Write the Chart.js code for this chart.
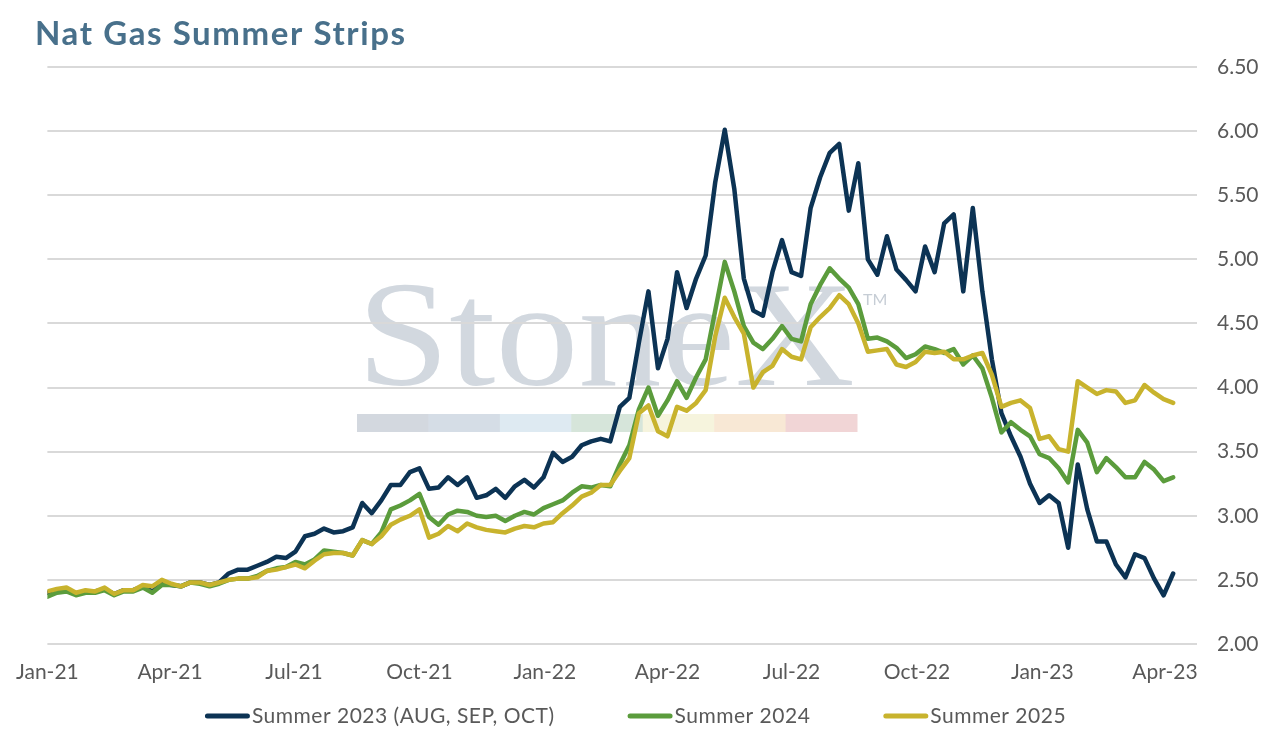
<!DOCTYPE html>
<html>
<head>
<meta charset="utf-8">
<title>Nat Gas Summer Strips</title>
<script src="https://cdn.jsdelivr.net/npm/chart.js@4.4.0/dist/chart.umd.min.js"></script>
<style>
    html, body { margin: 0; padding: 0; background: #fff; }
    #wrap { position: relative; width: 1271px; height: 734px; }
</style>
</head>
<body>
<div id="wrap"><canvas id="myChart" width="1271" height="734"></canvas></div>
<script>
// weekly settlement of each strip, first point = week of 2021-01-01
const startDate = '2021-01-01';
const stepDays = 7;

const summer2023 = [
    2.40, 2.42, 2.43, 2.39, 2.41, 2.41, 2.43, 2.39, 2.42, 2.42,
    2.45, 2.41, 2.47, 2.46, 2.45, 2.48, 2.48, 2.46, 2.48, 2.55,
    2.58, 2.58, 2.61, 2.64, 2.68, 2.67, 2.72, 2.84, 2.86, 2.90,
    2.87, 2.88, 2.91, 3.10, 3.02, 3.12, 3.24, 3.24, 3.34, 3.37,
    3.21, 3.22, 3.30, 3.24, 3.30, 3.14, 3.16, 3.21, 3.14, 3.23,
    3.28, 3.22, 3.30, 3.49, 3.42, 3.46, 3.55, 3.58, 3.60, 3.58,
    3.85, 3.92, 4.35, 4.75, 4.15, 4.38, 4.90, 4.62, 4.85, 5.03,
    5.60, 6.01, 5.55, 4.85, 4.60, 4.56, 4.90, 5.15, 4.90, 4.87,
    5.40, 5.64, 5.83, 5.90, 5.38, 5.75, 5.00, 4.88, 5.18, 4.92,
    4.84, 4.75, 5.10, 4.90, 5.28, 5.35, 4.75, 5.40, 4.75, 4.22,
    3.80, 3.62, 3.46, 3.25, 3.10, 3.16, 3.10, 2.75, 3.40, 3.05,
    2.80, 2.80, 2.62, 2.52, 2.70, 2.67, 2.51, 2.38, 2.55
];
const summer2024 = [
    2.37, 2.40, 2.41, 2.38, 2.40, 2.40, 2.42, 2.38, 2.41, 2.41,
    2.44, 2.40, 2.46, 2.46, 2.45, 2.48, 2.47, 2.45, 2.47, 2.50,
    2.51, 2.51, 2.53, 2.57, 2.59, 2.60, 2.64, 2.62, 2.66, 2.73,
    2.72, 2.71, 2.69, 2.81, 2.78, 2.87, 3.05, 3.08, 3.12, 3.17,
    2.99, 2.93, 3.01, 3.04, 3.03, 3.00, 2.99, 3.00, 2.96, 3.00,
    3.03, 3.01, 3.06, 3.09, 3.12, 3.18, 3.23, 3.22, 3.24, 3.23,
    3.40, 3.55, 3.83, 4.00, 3.78, 3.90, 4.05, 3.92, 4.08, 4.22,
    4.60, 4.98, 4.75, 4.48, 4.35, 4.30, 4.38, 4.48, 4.38, 4.36,
    4.65, 4.80, 4.93, 4.85, 4.78, 4.65, 4.38, 4.39, 4.36, 4.31,
    4.23, 4.26, 4.32, 4.30, 4.27, 4.30, 4.18, 4.25, 4.15, 3.92,
    3.65, 3.73, 3.67, 3.62, 3.48, 3.45, 3.37, 3.26, 3.67, 3.57,
    3.34, 3.45, 3.38, 3.30, 3.30, 3.42, 3.36, 3.27, 3.30
];
const summer2025 = [
    2.41, 2.43, 2.44, 2.40, 2.42, 2.41, 2.44, 2.39, 2.42, 2.42,
    2.46, 2.45, 2.50, 2.47, 2.45, 2.48, 2.48, 2.46, 2.48, 2.50,
    2.51, 2.51, 2.52, 2.57, 2.58, 2.60, 2.62, 2.59, 2.65, 2.70,
    2.71, 2.71, 2.69, 2.81, 2.78, 2.84, 2.93, 2.97, 3.00, 3.05,
    2.83, 2.86, 2.92, 2.88, 2.94, 2.91, 2.89, 2.88, 2.87, 2.90,
    2.92, 2.91, 2.94, 2.95, 3.02, 3.08, 3.15, 3.18, 3.24, 3.24,
    3.35, 3.45, 3.80, 3.86, 3.66, 3.62, 3.85, 3.82, 3.88, 3.98,
    4.40, 4.70, 4.55, 4.42, 4.00, 4.12, 4.17, 4.30, 4.24, 4.22,
    4.47, 4.55, 4.62, 4.72, 4.65, 4.50, 4.28, 4.29, 4.30, 4.18,
    4.16, 4.20, 4.28, 4.27, 4.28, 4.22, 4.22, 4.25, 4.27, 4.10,
    3.85, 3.88, 3.90, 3.84, 3.60, 3.62, 3.52, 3.50, 4.05, 4.00,
    3.95, 3.98, 3.97, 3.88, 3.90, 4.02, 3.96, 3.91, 3.88
];

const seriesNames = ['Summer 2023 (AUG, SEP, OCT)', 'Summer 2024', 'Summer 2025'];
const tickDates = ['2021-01-01', '2021-04-01', '2021-07-01', '2021-10-01', '2022-01-01',
    '2022-04-01', '2022-07-01', '2022-10-01', '2023-01-01', '2023-04-01'];
const tickLabels = ['Jan-21', 'Apr-21', 'Jul-21', 'Oct-21', 'Jan-22',
    'Apr-22', 'Jul-22', 'Oct-22', 'Jan-23', 'Apr-23'];
const yTicks = [2.00, 2.50, 3.00, 3.50, 4.00, 4.50, 5.00, 5.50, 6.00, 6.50];

const dayOf = d => (Date.parse(d) - Date.parse(startDate)) / 86400000;
const tickDays = tickDates.map(dayOf);
const toPoints = values => values.map((v, i) => ({ x: i * stepDays, y: v }));

const tickFont = { family: 'Lato, "Open Sans", sans-serif', size: 21 };

// spread text out to a target width (the original face is wider than Lato)
function fitText(ctx, text, width) {
    ctx.letterSpacing = '0px';
    const w = ctx.measureText(text).width;
    ctx.letterSpacing = ((width - w) / Math.max(text.length - 1, 1)).toFixed(2) + 'px';
}

// StoneX watermark behind the grid, title and legend on top
const decor = {
    id: 'decor',
    beforeDraw(chart) {
        const ctx = chart.ctx;
        ctx.save();
        ctx.font = '150px "Liberation Serif", "DejaVu Serif", serif';
        const w = ctx.measureText('StoneX').width;
        ctx.translate(357, 385);
        ctx.scale(498 / w, 1);
        ctx.fillStyle = '#d2d8df';
        ctx.textBaseline = 'alphabetic';
        ctx.fillText('StoneX', 0, 0);
        ctx.restore();

        ctx.save();
        ctx.font = '16px Lato, sans-serif';
        ctx.fillStyle = '#c6cdd5';
        ctx.fillText('TM', 863, 305);
        const barColors = ['#d3d8df', '#d5dde6', '#deeaf2', '#d6e5da', '#f6f4dd', '#f8e8d5', '#f1d5d6'];
        const segW = (857 - 357) / barColors.length;
        barColors.forEach((c, i) => {
            ctx.fillStyle = c;
            ctx.fillRect(357 + i * segW, 414, segW + 0.5, 18);
        });
        ctx.restore();
    },
    afterDraw(chart) {
        const ctx = chart.ctx;
        ctx.save();
        ctx.font = 'bold 33px Lato, "Open Sans", sans-serif';
        ctx.fillStyle = '#48708b';
        ctx.textBaseline = 'alphabetic';
        fitText(ctx, 'Nat Gas Summer Strips', 370);
        ctx.fillText('Nat Gas Summer Strips', 35, 45);

        // legend
        ctx.font = '21px Lato, "Open Sans", sans-serif';
        ctx.letterSpacing = '0.5px';
        ctx.textBaseline = 'middle';
        const sw = 45, gap = 2, itemGap = 73, y = 716;
        const items = chart.data.datasets.map(ds => ({ label: ds.label, color: ds.borderColor }));
        const widths = items.map(it => sw + gap + ctx.measureText(it.label).width);
        const total = widths.reduce((a, b) => a + b, 0) + itemGap * (items.length - 1);
        let x = chart.width / 2 - total / 2;
        items.forEach((it, i) => {
            ctx.strokeStyle = it.color;
            ctx.lineWidth = 5;
            ctx.lineCap = 'round';
            ctx.beginPath();
            ctx.moveTo(x + 2.5, y);
            ctx.lineTo(x + sw - 2.5, y);
            ctx.stroke();
            ctx.fillStyle = '#595959';
            ctx.fillText(it.label, x + sw + gap, y);
            x += widths[i] + itemGap;
        });
        ctx.restore();
    }
};

const ctx = document.getElementById('myChart').getContext('2d');
new Chart(ctx, {
    type: 'line',
    data: {
        datasets: [{
            label: seriesNames[0],
            data: toPoints(summer2023),
            borderColor: '#0c3354',
            order: 3
        }, {
            label: seriesNames[1],
            data: toPoints(summer2024),
            borderColor: '#5b9c3c',
            order: 2
        }, {
            label: seriesNames[2],
            data: toPoints(summer2025),
            borderColor: '#c8b32d',
            order: 1
        }]
    },
    options: {
        responsive: false,
        animation: false,
        layout: {
            padding: { top: 67, left: 41, right: 8, bottom: 50 }
        },
        elements: {
            point: { radius: 0 },
            line: { borderWidth: 4.5, tension: 0, borderJoinStyle: 'round', borderCapStyle: 'round', fill: false }
        },
        scales: {
            x: {
                type: 'linear',
                min: 0,
                max: 843.5,
                afterBuildTicks: scale => {
                    scale.ticks = tickDays.map(v => ({ value: v }));
                },
                afterFit: scale => { scale.height = 40; },
                ticks: {
                    autoSkip: false,
                    maxRotation: 0,
                    padding: 16,
                    color: '#595959',
                    font: tickFont,
                    callback: (value, index) => tickLabels[index]
                },
                grid: { display: false, drawTicks: false },
                border: { display: false }
            },
            y: {
                position: 'right',
                min: 2,
                max: 6.5,
                afterBuildTicks: scale => {
                    scale.ticks = yTicks.map(v => ({ value: v }));
                },
                afterFit: scale => { scale.width = 66; },
                ticks: {
                    padding: 20,
                    color: '#595959',
                    font: tickFont,
                    callback: value => value.toFixed(2)
                },
                grid: { color: '#d9d9d9', lineWidth: 2, drawTicks: false },
                border: { display: false }
            }
        },
        plugins: {
            legend: { display: false },
            tooltip: { enabled: false }
        }
    },
    plugins: [decor]
});
</script>
</body>
</html>
